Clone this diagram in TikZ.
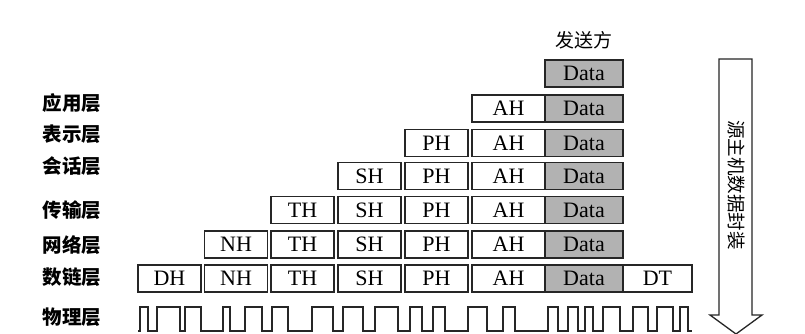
\documentclass[tikz,border=0pt]{standalone}
\usepackage{fontspec}
\setmainfont{Liberation Serif}
\newfontfamily\cjk{Noto Sans CJK SC}
\begin{document}
\begin{tikzpicture}[x=1pt,y=-1pt,
  pkt/.style={draw=black!85,line width=1.5pt,inner sep=0pt,minimum height=27pt,
    font=\fontsize{22}{22}\selectfont},
  hdr/.style={pkt,minimum width=63pt},
  ahbox/.style={pkt,minimum width=73pt},
  databox/.style={pkt,minimum width=78pt,fill=black!30},
  dtbox/.style={pkt,minimum width=69pt},
  layer/.style={font=\cjk\bfseries\fontsize{19.5}{19.5}\selectfont,inner sep=0pt},
  wave/.style={draw=black!85,line width=1.4pt,line join=miter},
  bigarrow/.style={draw=black!85,line width=1.3pt,fill=white}
]
\useasboundingbox[fill=white] (0,0) rectangle (805,333);

% title
\node[font=\cjk\fontsize{19}{19}\selectfont,inner sep=0pt] (sender) at (584,40) {发送方};

% layer labels
\node[layer] (lapp) at (72,103) {应用层};
\node[layer] (lpre) at (72,134) {表示层};
\node[layer] (lses) at (72,166) {会话层};
\node[layer] (ltra) at (72,210) {传输层};
\node[layer] (lnet) at (72,245) {网络层};
\node[layer] (llnk) at (72,277) {数链层};
\node[layer] (lphy) at (72,317) {物理层};

% row 1
\node[databox] (d1) at (584,73.5) {Data};
% row 2
\node[ahbox] (a2) at (508.5,108.5) {AH};
\node[databox] (d2) at (584,108.5) {Data};
% row 3
\node[hdr] (p3) at (436.5,143) {PH};
\node[ahbox] (a3) at (508.5,143) {AH};
\node[databox] (d3) at (584,143) {Data};
% row 4
\node[hdr] (s4) at (369.5,176) {SH};
\node[hdr] (p4) at (436.5,176) {PH};
\node[ahbox] (a4) at (508.5,176) {AH};
\node[databox] (d4) at (584,176) {Data};
% row 5
\node[hdr] (t5) at (302.5,210) {TH};
\node[hdr] (s5) at (369.5,210) {SH};
\node[hdr] (p5) at (436.5,210) {PH};
\node[ahbox] (a5) at (508.5,210) {AH};
\node[databox] (d5) at (584,210) {Data};
% row 6
\node[hdr] (n6) at (236,244.5) {NH};
\node[hdr] (t6) at (302.5,244.5) {TH};
\node[hdr] (s6) at (369.5,244.5) {SH};
\node[hdr] (p6) at (436.5,244.5) {PH};
\node[ahbox] (a6) at (508.5,244.5) {AH};
\node[databox] (d6) at (584,244.5) {Data};
% row 7
\node[hdr] (h7) at (169.5,278.5) {DH};
\node[hdr] (n7) at (236,278.5) {NH};
\node[hdr] (t7) at (302.5,278.5) {TH};
\node[hdr] (s7) at (369.5,278.5) {SH};
\node[hdr] (p7) at (436.5,278.5) {PH};
\node[ahbox] (a7) at (508.5,278.5) {AH};
\node[databox] (d7) at (584,278.5) {Data};
\node[dtbox] (dt7) at (657.5,278.5) {DT};

% physical signal
\draw[wave] (138,331)
  foreach \a/\b in {140/148,157/180,185/201,223/230,245/262,272/288,312/333,343/363,
    375/398,410/422,433/445,468/487,503/515,548/558,568/578,585/593,603/620,
    633/648,657/673,680/688}
  { -- (\a,331) -- (\a,307) -- (\b,307) -- (\b,331) } -- (692,331);

% big downward arrow
\draw[bigarrow] (719,59) -- (752,59) -- (752,315) -- (762,315) -- (736,334)
  -- (710,315) -- (719,315) -- cycle;
\node[font=\cjk\fontsize{18.5}{18.5}\selectfont,inner sep=0pt,rotate=-90] (enc) at (736,185) {源主机数据封装};
\end{tikzpicture}
\end{document}
